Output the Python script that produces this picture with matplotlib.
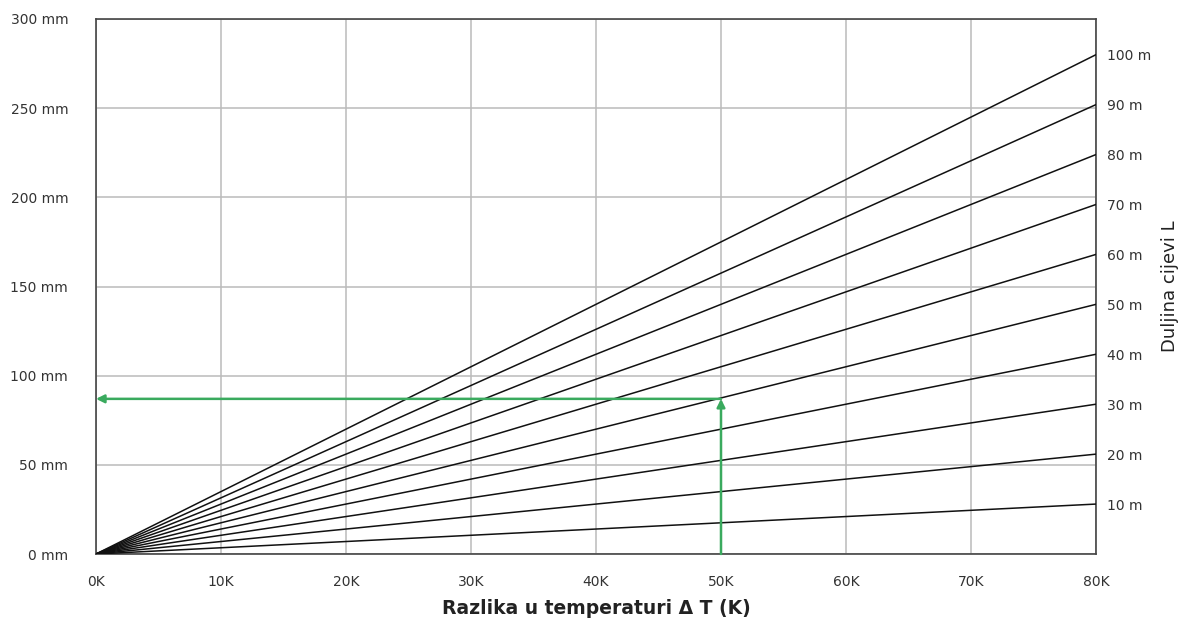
import matplotlib.pyplot as plt
import numpy as np

# Data
dT = np.array([0, 80])                      # K
lengths = np.array([10, 20, 30, 40, 50, 60, 70, 80, 90, 100])   # m
end_exp = np.array([28, 56, 84, 112, 140, 168, 196, 224, 252, 280])  # mm at 80K
x_ticks = np.arange(0, 90, 10)
y_ticks = np.arange(0, 350, 50)

# example reading: 50 m, 50K
ex_dT = 50
ex_val = 87

plt.rcParams['font.family'] = ['DejaVu Sans']

fig = plt.figure(figsize=(11.82, 6.19), dpi=100)
ax = fig.add_axes([96/1182, 1-554/619, 1000/1182, 535/619])

for L, e in zip(lengths, end_exp):
    ax.plot(dT, [0, e], color='#111111', lw=1.1, zorder=3)

ax.set_xlim(0, 80)
ax.set_ylim(0, 300)
ax.set_xticks(x_ticks)
ax.set_xticklabels([f'{v}K' for v in x_ticks])
ax.set_yticks(y_ticks)
ax.set_yticklabels([f'{v} mm' for v in y_ticks])
ax.tick_params(length=0, labelsize=10, colors='#333333')
ax.tick_params(axis='x', pad=15)
ax.tick_params(axis='y', pad=20)
ax.grid(True, color='#bbbbbb', lw=1.1, zorder=0)
for s in ax.spines.values():
    s.set_color('#444444')
    s.set_linewidth(1.2)

ax.set_xlabel('Razlika u temperaturi \u0394 T (K)', fontsize=13.5, fontweight='bold',
              color='#222222', labelpad=7)

# green example arrows
green = '#3aaa5e'
ax.annotate('', xy=(ex_dT, ex_val), xytext=(ex_dT, 0),
            arrowprops=dict(arrowstyle='-|>', color=green, lw=1.8, mutation_scale=12,
                            shrinkA=0, shrinkB=0), zorder=5)
ax.annotate('', xy=(0, ex_val), xytext=(ex_dT, ex_val),
            arrowprops=dict(arrowstyle='-|>', color=green, lw=1.8, mutation_scale=12,
                            shrinkA=0, shrinkB=0), zorder=5)

# right axis with pipe lengths
ax2 = ax.twinx()
ax2.set_ylim(0, 300)
ax2.set_yticks(end_exp)
ax2.set_yticklabels([f'{L} m' for L in lengths])
ax2.tick_params(length=0, labelsize=10, colors='#333333', pad=8)
for s in ax2.spines.values():
    s.set_visible(False)
ax2.set_ylabel('Duljina cijevi L', fontsize=13, color='#222222')
ax2.yaxis.set_label_coords(1.065, 0.5)

plt.savefig('out.png', dpi=100)
